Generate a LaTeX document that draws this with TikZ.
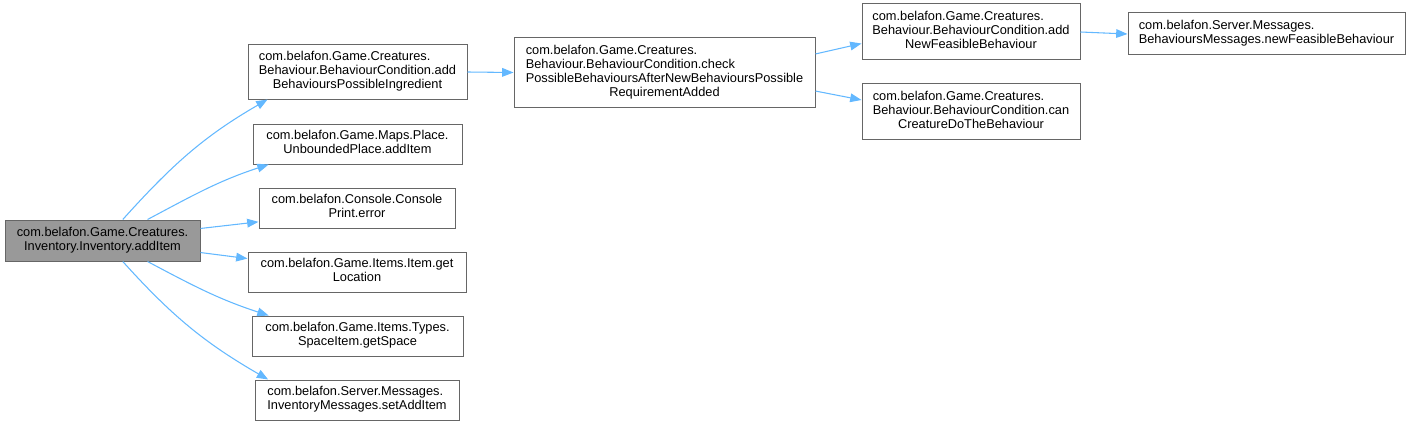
\documentclass[tikz,border=0pt]{standalone}
\usepackage{fontspec}
\setmainfont{Liberation Sans}
\usetikzlibrary{arrows.meta}
\definecolor{edgeblue}{HTML}{63B8FF}
\definecolor{boxgray}{HTML}{666666}
\definecolor{rootgray}{HTML}{999999}
% upper lines flush left, last line centred
\newcommand{\fnlbl}[2]{\begin{tabular}{@{}l@{}}#1\\\multicolumn{1}{@{}c@{}}{#2}\end{tabular}}
\tikzset{
  >={Triangle[length=8.5pt,width=6.5pt]},
  % call graph
  cf/.style={rectangle,draw=boxgray,fill=white,line width=0.75pt,inner sep=0pt,
             font=\fontsize{9.6}{10.6}\selectfont},
  cfroot/.style={cf,fill=rootgray},
  wh/.style 2 args={minimum width=#1*0.75pt,minimum height=#2*0.75pt},
  ce/.style={->,draw=edgeblue,line width=0.8pt},
}
\begin{document}
\begin{tikzpicture}[x=0.75pt,y=0.75pt]
\useasboundingbox (0,0) rectangle (1411,426);
  \node[cfroot,wh={195}{41}] (inv) at (102.5,185.5)
    {\fnlbl{com.belafon.Game.Creatures.}{Inventory.Inventory.addItem}};
  \node[cf,wh={219}{54}] (addbpi) at (357.5,354)
    {\fnlbl{com.belafon.Game.Creatures.\\Behaviour.BehaviourCondition.add}{BehavioursPossibleIngredient}};
  \node[cf,wh={209}{40}] (ubadd) at (357.5,282)
    {\fnlbl{com.belafon.Game.Maps.Place.}{UnboundedPlace.addItem}};
  \node[cf,wh={196}{40}] (perr) at (357,218)
    {\fnlbl{com.belafon.Console.Console}{Print.error}};
  \node[cf,wh={218}{40}] (getloc) at (357,154)
    {\fnlbl{com.belafon.Game.Items.Item.get}{Location}};
  \node[cf,wh={211}{40}] (getsp) at (357.5,90)
    {\fnlbl{com.belafon.Game.Items.Types.}{SpaceItem.getSpace}};
  \node[cf,wh={204}{40}] (setadd) at (357,26)
    {\fnlbl{com.belafon.Server.Messages.}{InventoryMessages.setAddItem}};
  \node[cf,wh={301}{69}] (check) at (664.5,353.5)
    {\fnlbl{com.belafon.Game.Creatures.\\Behaviour.BehaviourCondition.check\\PossibleBehavioursAfterNewBehavioursPossible}{RequirementAdded}};
  \node[cf,wh={218}{56}] (addnfb) at (971,394)
    {\fnlbl{com.belafon.Game.Creatures.\\Behaviour.BehaviourCondition.add}{NewFeasibleBehaviour}};
  \node[cf,wh={218}{56}] (cando) at (971,314.5)
    {\fnlbl{com.belafon.Game.Creatures.\\Behaviour.BehaviourCondition.can}{CreatureDoTheBehaviour}};
  \node[cf,wh={277}{42}] (newfb) at (1266.5,392)
    {\fnlbl{com.belafon.Server.Messages.}{BehavioursMessages.newFeasibleBehaviour}};
  \draw[ce] (inv.46) to[out=48,in=210] (addbpi.197);
  \draw[ce] (inv.25) to[out=28,in=198] (ubadd.193);
  \draw[ce] (inv.7) -- (perr.188);
  \draw[ce] (inv.-7) -- (getloc.173);
  \draw[ce] (inv.-25) to[out=-28,in=162] (getsp.167);
  \draw[ce] (inv.-46) to[out=-48,in=150] (setadd.167);
  \draw[ce] (addbpi.east) -- (check.west);
  \draw[ce] (check.7) -- (addnfb.186);
  \draw[ce] (check.-7) -- (cando.174);
  \draw[ce] (addnfb.east) -- (newfb.west);
\end{tikzpicture}
\end{document}
